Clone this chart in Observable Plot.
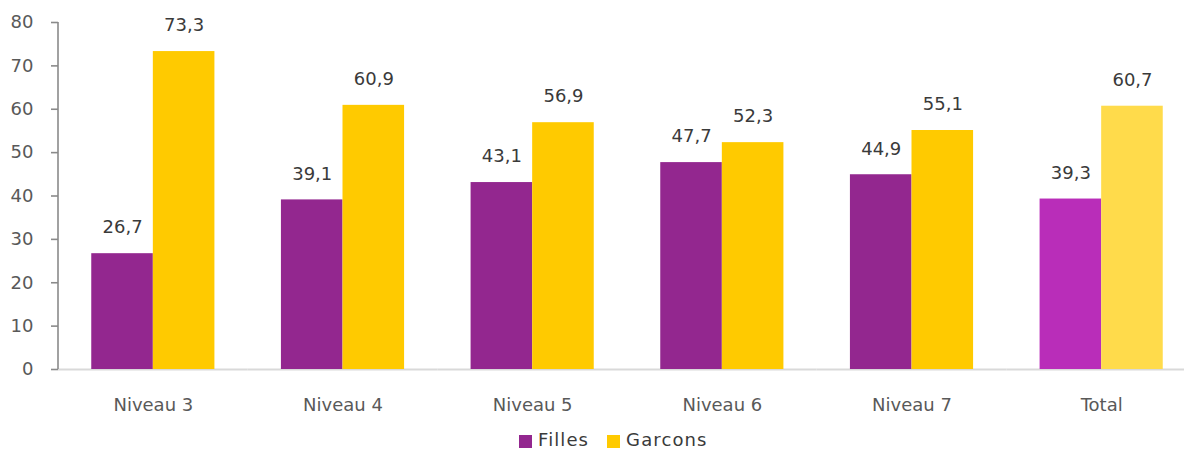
<!DOCTYPE html>
<html>
<head>
<meta charset="utf-8">
<script src="https://cdn.jsdelivr.net/npm/d3@7"></script>
<script src="https://cdn.jsdelivr.net/npm/@observablehq/plot@0.6"></script>
<style>
  html, body { margin: 0; padding: 0; background: #fff; overflow: hidden; }
  #wrap { position: relative; width: 1184px; height: 450px; font-family: "DejaVu Sans", sans-serif; }
  #legend { position: absolute; top: 431px; left: 519px; display: flex; gap: 18px; font-size: 18px; color: #3a3a3a; letter-spacing: 1.1px; }
  #legend .item { display: flex; align-items: flex-end; gap: 6px; line-height: 18px; }
  #legend .sw { width: 13px; height: 13px; display: inline-block; margin-bottom: 1px; }
</style>
</head>
<body>
<div id="wrap"><div id="chart"></div><div id="legend"></div></div>
<script>
const categories = ["Niveau 3", "Niveau 4", "Niveau 5", "Niveau 6", "Niveau 7", "Total"];
const series = ["Filles", "Garcons"];
const filles = [26.7, 39.1, 43.1, 47.7, 44.9, 39.3];
const garcons = [73.3, 60.9, 56.9, 52.3, 55.1, 60.7];
const yTicks = [0, 10, 20, 30, 40, 50, 60, 70, 80];

const colors = { Filles: "#93278f", Garcons: "#ffca00" };
const totalColors = { Filles: "#b92db9", Garcons: "#ffdb4b" };

const data = [];
categories.forEach((c, i) => {
  data.push({ cat: c, serie: "Filles", value: filles[i] });
  data.push({ cat: c, serie: "Garcons", value: garcons[i] });
});
data.forEach(d => { d.color = d.cat === "Total" ? totalColors[d.serie] : colors[d.serie]; });

const fmt = v => v.toFixed(1).replace(".", ",");
const marginLeft = 58;

const chart = Plot.plot({
  width: 1184,
  height: 425,
  marginLeft,
  marginRight: -12,
  marginTop: 22,
  marginBottom: 56,
  style: { fontFamily: "DejaVu Sans, sans-serif", fontSize: "18px", color: "#595959", background: "#fff" },
  fx: { domain: categories, paddingInner: 0, paddingOuter: 0, round: false, label: null },
  x: { domain: series, paddingInner: 0, paddingOuter: 0.54, round: false, axis: null },
  y: { domain: [0, 80], label: null },
  color: { type: "identity" },
  marks: [
    Plot.ruleY([0], { stroke: "#d9d9d9", strokeWidth: 2 }),
    Plot.barY(data, { fx: "cat", x: "serie", y: "value", fill: "color" }),
    Plot.axisY({ ticks: yTicks, tickSize: 7, tickPadding: 18, fontSize: 18, stroke: "#8a8a8a", strokeWidth: 1.6, label: null, fill: "#595959", tickFormat: d => String(d) }),
    Plot.axisFx({ anchor: "bottom", tickSize: 0, tickPadding: 29, fontSize: 18, fill: "#595959", label: null, style: { letterSpacing: "0.9px" } }),
    Plot.text(data, { fx: "cat", x: "serie", y: "value", text: d => fmt(d.value), dy: -26, lineAnchor: "middle", fontSize: 18, fill: "#3a3a3a" })
  ]
});

// vertical y-axis line, positioned through the chart's y scale
const ys = chart.scale("y");
d3.select(chart).append("line")
  .attr("x1", marginLeft).attr("x2", marginLeft)
  .attr("y1", ys.apply(ys.domain[0])).attr("y2", ys.apply(ys.domain[1]))
  .attr("stroke", "#8a8a8a").attr("stroke-width", 1.6);

document.getElementById("chart").appendChild(chart);

const legend = document.getElementById("legend");
series.forEach(s => {
  const it = document.createElement("div");
  it.className = "item";
  const sw = document.createElement("span");
  sw.className = "sw";
  sw.style.background = colors[s];
  const tx = document.createElement("span");
  tx.textContent = s;
  it.appendChild(sw);
  it.appendChild(tx);
  legend.appendChild(it);
});
</script>
</body>
</html>
